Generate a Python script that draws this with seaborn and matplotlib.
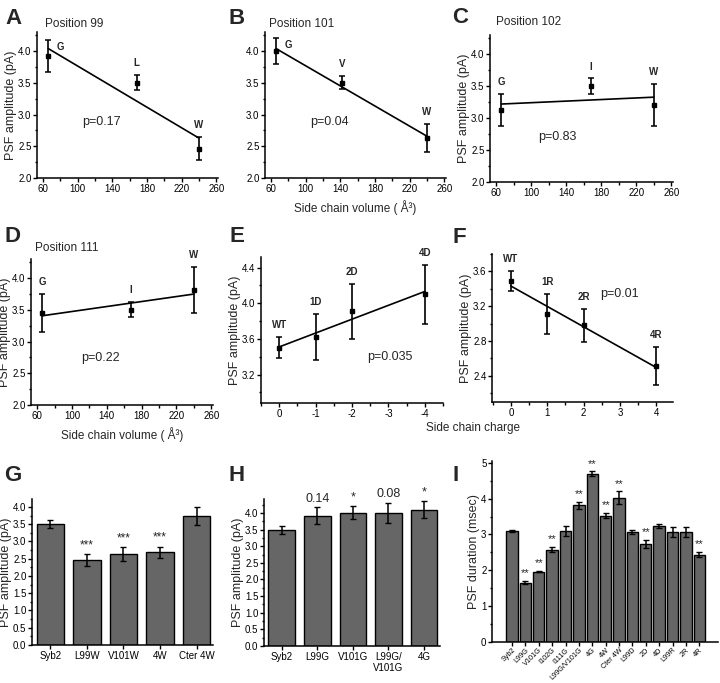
# -*- coding: utf-8 -*-
"""
    PSF amplitude / duration for syb2 TMD mutants, panels A-I
"""
import matplotlib
matplotlib.use('Agg')
import matplotlib.pyplot as plt
from matplotlib.ticker import MultipleLocator
import numpy as np
import seaborn as sns

# A-D: side chain volume vs amplitude
vol_99 = [66, 168, 240]
amp_99 = [3.92, 3.50, 2.46]
err_99 = [0.25, 0.12, 0.18]
res_99 = ['G', 'L', 'W']

vol_101 = [66, 142, 240]
amp_101 = [4.00, 3.50, 2.63]
err_101 = [0.20, 0.10, 0.22]
res_101 = ['G', 'V', 'W']

vol_102 = [66, 168, 240]
amp_102 = [3.13, 3.50, 3.20]
err_102 = [0.25, 0.12, 0.33]
res_102 = ['G', 'I', 'W']

vol_111 = [66, 168, 240]
amp_111 = [3.45, 3.50, 3.81]
err_111 = [0.30, 0.12, 0.36]
res_111 = ['G', 'I', 'W']

# E-F: side chain charge vs amplitude
charge_d = [0, -1, -2, -4]
amp_d = [3.50, 3.62, 3.91, 4.10]
err_d = [0.12, 0.26, 0.31, 0.33]
lab_d = ['WT', '1D', '2D', '4D']

charge_r = [0, 1, 2, 4]
amp_r = [3.49, 3.11, 2.98, 2.51]
err_r = [0.12, 0.23, 0.19, 0.22]
lab_r = ['WT', '1R', '2R', '4R']

# G-I: bar charts
cat_g = ['Syb2', 'L99W', 'V101W', '4W', 'Cter 4W']
amp_g = [3.50, 2.46, 2.63, 2.69, 3.74]
err_g = [0.12, 0.18, 0.21, 0.16, 0.25]
sig_g = ['', '***', '***', '***', '']

cat_h = ['Syb2', 'L99G', 'V101G', 'L99G/\nV101G', '4G']
amp_h = [3.50, 3.92, 4.01, 4.00, 4.10]
err_h = [0.12, 0.25, 0.20, 0.31, 0.25]
sig_h = ['', '0.14', '*', '0.08', '*']

cat_i = ['Syb2', 'L99G', 'V101G', 'I102G', 'I111G', 'L99G/V101G', '4G', '4W',
         'Cter 4W', 'L99D', '2D', '4D', 'L99R', '2R', '4R']
dur_i = [3.10, 1.66, 1.96, 2.58, 3.10, 3.81, 4.69, 3.52, 4.02, 3.06, 2.73,
         3.23, 3.08, 3.07, 2.44]
err_i = [0.03, 0.05, 0.02, 0.08, 0.13, 0.11, 0.07, 0.07, 0.18, 0.06, 0.11,
         0.06, 0.14, 0.15, 0.08]
sig_i = ['', '**', '**', '**', '', '**', '**', '**', '**', '', '**', '', '',
         '', '**']

sns.set_style('ticks')
plt.rcParams['font.family'] = ['Liberation Sans', 'DejaVu Sans']
plt.rcParams['axes.unicode_minus'] = False
plt.rcParams['axes.linewidth'] = 1.1
for k in ['xtick', 'ytick']:
    plt.rcParams[k + '.major.width'] = 1.0
    plt.rcParams[k + '.minor.width'] = 1.0
    plt.rcParams[k + '.major.size'] = 3
    plt.rcParams[k + '.minor.size'] = 1.8
    plt.rcParams[k + '.major.pad'] = 1
    plt.rcParams[k + '.color'] = 'black'
plt.rcParams['axes.edgecolor'] = 'black'

W, H = 720, 683
fig = plt.figure(figsize=(7.2, 6.83), dpi=100)


def px_axes(left, right, top, bottom):
    return fig.add_axes([left / W, 1 - bottom / H, (right - left) / W,
                         (bottom - top) / H])


def px_text(x, y, s, **kw):
    fig.text(x / W, 1 - y / H, s, **kw)


BAR_COLOR = '#666666'
YLAB = 9
TICK = 7


def scatter_panel(ax, x, y, err, labels, ptext, ppos, right_first=False):
    sns.regplot(x=np.array(x), y=np.array(y), ci=None, scatter=False,
                ax=ax, line_kws={'color': 'black', 'lw': 1.2})
    ax.errorbar(x, y, yerr=err, fmt='s', color='black', ms=3.5,
                capsize=2.2, elinewidth=1.2, capthick=1.1, zorder=5)
    for i, (xi, yi, ei, lab) in enumerate(zip(x, y, err, labels)):
        if right_first and i == 0:
            ax.annotate(lab, (xi, yi + ei), xytext=(6, -5),
                        textcoords='offset points', ha='left', va='center',
                        fontsize=7, fontweight='bold')
        else:
            ax.annotate(lab, (xi, yi + ei), xytext=(0, 5),
                        textcoords='offset points', ha='center',
                        va='bottom', fontsize=7, fontweight='bold')
    ax.text(ppos[0], ppos[1], ptext, ha='center', va='center', fontsize=9)
    ax.tick_params(labelsize=TICK)
    sns.despine(ax=ax)


def volume_axes(ax):
    ax.set_xlim(53, 262)
    ax.set_ylim(2.0, 4.3)
    ax.set_xticks([60, 100, 140, 180, 220, 260])
    ax.xaxis.set_minor_locator(MultipleLocator(20))
    ax.yaxis.set_major_locator(MultipleLocator(0.5))
    ax.yaxis.set_minor_locator(MultipleLocator(0.25))
    ax.set_ylabel('PSF amplitude (pA)', fontsize=YLAB, labelpad=0.5)


# A
ax = px_axes(37, 218, 32, 178)
scatter_panel(ax, vol_99, amp_99, err_99, res_99, 'p=0.17', (128, 2.88),
              right_first=True)
volume_axes(ax)
px_text(45, 24, 'Position 99', fontsize=8.5, va='center')

# B
ax = px_axes(265, 446, 32, 178)
scatter_panel(ax, vol_101, amp_101, err_101, res_101, 'p=0.04', (127, 2.88),
              right_first=True)
volume_axes(ax)
ax.set_ylabel('')
ax.set_xlabel('Side chain volume ( Å³)', fontsize=8.5, labelpad=5)
px_text(269, 24, 'Position 101', fontsize=8.5, va='center')

# C
ax = px_axes(490, 673, 35, 182)
scatter_panel(ax, vol_102, amp_102, err_102, res_102, 'p=0.83', (130, 2.71))
volume_axes(ax)
px_text(496, 22, 'Position 102', fontsize=8.5, va='center')

# D
ax = px_axes(31, 213, 259, 405)
scatter_panel(ax, vol_111, amp_111, err_111, res_111, 'p=0.22', (133, 2.74))
volume_axes(ax)
ax.set_xlabel('Side chain volume ( Å³)', fontsize=8.5, labelpad=5)
px_text(35, 248, 'Position 111', fontsize=8.5, va='center')

# E
ax = px_axes(261, 443, 257, 403)
scatter_panel(ax, charge_d, amp_d, err_d, lab_d, 'p=0.035', (-3.04, 3.40))
ax.set_xlim(0.5, -4.5)
ax.xaxis.set_major_locator(MultipleLocator(1))
ax.xaxis.set_minor_locator(MultipleLocator(0.5))
ax.yaxis.set_major_locator(MultipleLocator(0.4))
ax.yaxis.set_minor_locator(MultipleLocator(0.2))
ax.set_ylim(2.88, 4.52)
ax.set_ylabel('PSF amplitude (pA)', fontsize=YLAB, labelpad=0.5)

# F
ax = px_axes(492, 673, 254, 402)
scatter_panel(ax, charge_r, amp_r, err_r, lab_r, 'p=0.01', (3.0, 3.34))
ax.set_xlim(-0.52, 4.46)
ax.xaxis.set_major_locator(MultipleLocator(1))
ax.xaxis.set_minor_locator(MultipleLocator(0.5))
ax.yaxis.set_major_locator(MultipleLocator(0.4))
ax.yaxis.set_minor_locator(MultipleLocator(0.2))
ax.set_ylim(2.1, 3.8)
ax.set_ylabel('PSF amplitude (pA)', fontsize=YLAB, labelpad=0.5)
px_text(473, 428, 'Side chain charge', fontsize=8.5, ha='center',
        va='center')


def bar_panel(ax, cats, vals, errs, sigs, width, sig_size):
    pos = np.arange(len(cats))
    sns.barplot(x=pos, y=vals, color=BAR_COLOR, saturation=1,
                edgecolor='black', linewidth=1.0, width=width, ax=ax,
                native_scale=True)
    ax.errorbar(pos, vals, yerr=errs, fmt='none', ecolor='black',
                elinewidth=1.1, capsize=2.2, capthick=1.0, zorder=5)
    for p, v, e, s in zip(pos, vals, errs, sigs):
        if s:
            ax.annotate(s, (p, v + e), xytext=(0, 2),
                        textcoords='offset points', ha='center',
                        va='bottom', fontsize=sig_size, annotation_clip=False)
    ax.set_xticks(pos)
    ax.tick_params(labelsize=TICK)
    sns.despine(ax=ax)


# G
ax = px_axes(32, 213, 499, 645)
bar_panel(ax, cat_g, amp_g, err_g, sig_g, 0.75, 8.5)
ax.set_xticklabels(cat_g)
ax.set_xlim(-0.5, 4.45)
ax.set_ylim(0, 4.23)
ax.yaxis.set_major_locator(MultipleLocator(0.5))
ax.yaxis.set_minor_locator(MultipleLocator(0.25))
ax.set_ylabel('PSF amplitude (pA)', fontsize=YLAB, labelpad=0.5)
ax.set_xlabel('')

# H
ax = px_axes(264, 440, 499, 646)
bar_panel(ax, cat_h, amp_h, err_h, sig_h, 0.75, 9)
ax.set_xticklabels(cat_h)
ax.set_xlim(-0.5, 4.45)
ax.set_ylim(0, 4.42)
ax.yaxis.set_major_locator(MultipleLocator(0.5))
ax.yaxis.set_minor_locator(MultipleLocator(0.25))
ax.set_ylabel('PSF amplitude (pA)', fontsize=YLAB, labelpad=0.5)
ax.set_xlabel('')

# I
ax = px_axes(492, 718, 461, 642)
bar_panel(ax, cat_i, dur_i, err_i, sig_i, 0.85, 8)
ax.set_xticklabels(cat_i, rotation=45, ha='right', rotation_mode='anchor',
                   fontsize=5.2)
ax.tick_params(axis='x', pad=0.3)
ax.set_xlim(-1.5, 15.4)
ax.set_ylim(0, 5.05)
ax.yaxis.set_major_locator(MultipleLocator(1))
ax.yaxis.set_minor_locator(MultipleLocator(0.5))
ax.set_ylabel('PSF duration (msec)', fontsize=YLAB, labelpad=0.5)
ax.set_xlabel('')

# panel letters
for letter, (lx, ly) in zip('ABCDEFGHI',
                            [(5, 8), (228, 8), (452, 7), (4, 226), (230, 226),
                             (452, 227), (4, 465), (228, 465), (453, 465)]):
    px_text(lx, ly, letter, fontsize=16, fontweight='bold', va='top')

plt.savefig('out.png', dpi=100)
